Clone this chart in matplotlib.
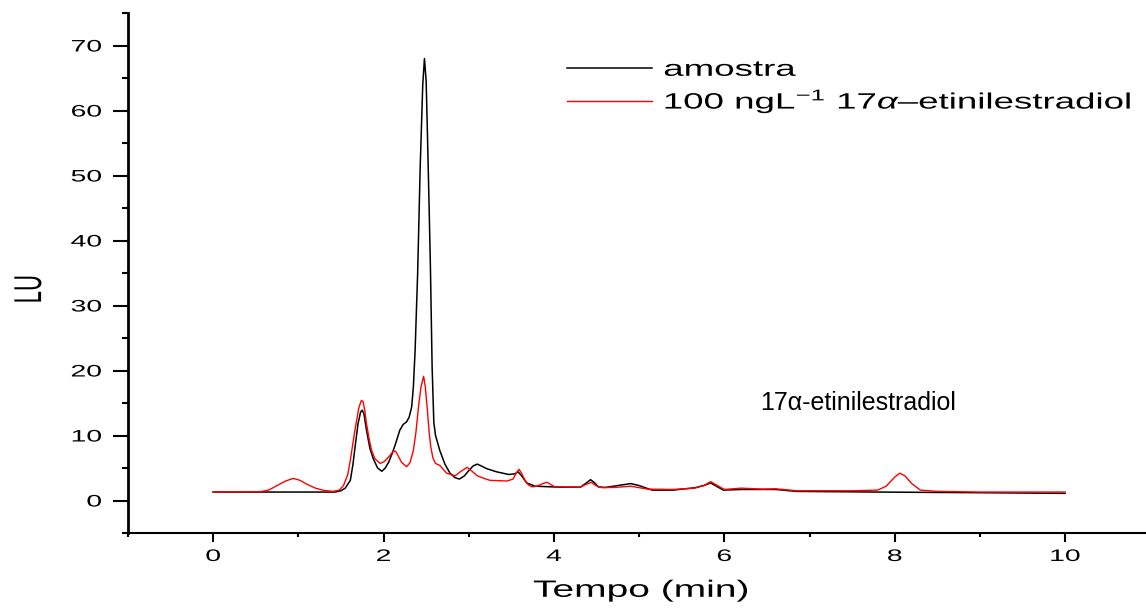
import matplotlib
matplotlib.use("Agg")
import matplotlib.pyplot as plt
from matplotlib.patheffects import AbstractPathEffect
from matplotlib.ticker import MultipleLocator
from matplotlib.transforms import Affine2D

# Chromatogram traces: time (min) vs fluorescence (LU)
amostra_t = [
    0.0, 0.5, 1.0, 1.43, 1.50,
    1.55, 1.61, 1.64, 1.67, 1.70,
    1.73, 1.75, 1.77, 1.80, 1.84,
    1.88, 1.93, 1.98, 2.02, 2.06,
    2.10, 2.14, 2.19, 2.23, 2.27,
    2.30, 2.33, 2.35, 2.37, 2.40,
    2.43, 2.46, 2.48, 2.50, 2.515,
    2.535, 2.55, 2.57, 2.59, 2.61,
    2.66, 2.72, 2.78, 2.84, 2.89,
    2.95, 3.00, 3.05, 3.10, 3.15,
    3.21, 3.33, 3.47, 3.54, 3.58,
    3.62, 3.68, 3.78, 4.07, 4.31,
    4.37, 4.43, 4.48, 4.52, 4.60,
    4.75, 4.90, 5.00, 5.15, 5.40,
    5.65, 5.76, 5.84, 5.92, 5.99,
    6.20, 6.60, 6.85, 7.80, 9.00, 10.0,
]
amostra_lu = [
    1.3, 1.3, 1.3, 1.3, 1.5,
    1.9, 3.1, 5.5, 8.7, 11.8,
    13.6, 13.9, 13.3, 10.8, 8.0,
    6.4, 5.0, 4.5, 5.0, 5.9,
    7.2, 8.7, 10.8, 11.7, 12.1,
    12.8, 14.4, 17.5, 23.0, 34.9,
    51.3, 64.0, 68.0, 64.5, 56.4,
    45.0, 35.9, 20.5, 12.0, 10.0,
    7.7, 5.6, 4.2, 3.5, 3.3,
    3.8, 4.6, 5.3, 5.6, 5.3,
    4.9, 4.4, 4.0, 4.1, 4.4,
    3.8, 2.7, 2.2, 2.05, 2.05,
    2.6, 3.2, 2.7, 2.1, 2.0,
    2.3, 2.6, 2.3, 1.6, 1.6,
    1.95, 2.3, 2.7, 2.1, 1.6,
    1.7, 1.7, 1.4, 1.3, 1.2, 1.1,
]

padrao_t = [
    0.0, 0.55, 0.65, 0.75, 0.85,
    0.94, 1.02, 1.10, 1.20, 1.30,
    1.41, 1.48, 1.53, 1.58, 1.61,
    1.64, 1.67, 1.71, 1.74, 1.76,
    1.78, 1.80, 1.83, 1.86, 1.90,
    1.96, 2.01, 2.06, 2.11, 2.14,
    2.17, 2.21, 2.27, 2.31, 2.35,
    2.38, 2.41, 2.44, 2.47, 2.49,
    2.515, 2.535, 2.555, 2.58, 2.61,
    2.66, 2.70, 2.74, 2.84, 2.91,
    2.98, 3.03, 3.10, 3.18, 3.25,
    3.45, 3.52, 3.56, 3.59, 3.62,
    3.66, 3.70, 3.74, 3.80, 3.87,
    3.92, 3.97, 4.01, 4.31, 4.38,
    4.44, 4.49, 4.55, 4.70, 4.90,
    5.10, 5.40, 5.65, 5.76, 5.84,
    5.92, 6.00, 6.20, 6.45, 6.60,
    6.85, 7.50, 7.80, 7.90, 8.00,
    8.06, 8.12, 8.20, 8.30, 8.50,
    9.00, 10.0,
]
padrao_lu = [
    1.3, 1.35, 1.6, 2.3, 3.0,
    3.4, 3.1, 2.5, 1.9, 1.55,
    1.4, 1.6, 2.3, 4.0, 6.2,
    8.8, 11.3, 14.3, 15.4, 15.2,
    13.8, 11.8, 9.5, 7.7, 6.4,
    5.7, 6.0, 6.7, 7.5, 7.6,
    6.9, 5.9, 5.2, 5.8, 7.7,
    10.5, 14.4, 17.5, 19.1, 17.5,
    13.8, 10.5, 8.2, 6.5, 5.7,
    5.4, 4.8, 4.2, 3.8, 4.5,
    5.1, 4.6, 3.8, 3.4, 3.1,
    3.0, 3.3, 4.3, 4.8, 4.2,
    3.1, 2.4, 2.1, 2.2, 2.6,
    2.8, 2.4, 2.1, 2.05, 2.5,
    2.8, 2.3, 2.0, 2.0, 2.2,
    1.75, 1.7, 1.9, 2.3, 2.9,
    2.3, 1.7, 1.9, 1.75, 1.8,
    1.5, 1.5, 1.6, 2.2, 3.6,
    4.2, 3.8, 2.6, 1.6, 1.4,
    1.3, 1.3,
]

x_ticks = [0, 2, 4, 6, 8, 10]
y_ticks = [0, 10, 20, 30, 40, 50, 60, 70]
series_labels = ["amostra", r"100 ngL$^{-1}$ 17$\alpha$–etinilestradiol"]
peak_label = "17α-etinilestradiol"

# the source graph was widened after export, so its lettering is wide too
STRETCH = 1.65


class HStretch(AbstractPathEffect):
    """Widen glyphs horizontally on screen, keeping the ink pinned at `pivot`."""

    def __init__(self, factor, pivot="center"):
        super().__init__()
        self.factor = factor
        self.pivot = pivot

    def draw_path(self, renderer, gc, tpath, affine, rgbFace=None):
        box = tpath.get_extents(affine)
        x0 = {"left": box.x0, "right": box.x1}.get(self.pivot, (box.x0 + box.x1) / 2)
        widen = Affine2D().translate(-x0, 0).scale(self.factor, 1).translate(x0, 0)
        renderer.draw_path(gc, tpath, affine + widen, rgbFace)


plt.rcParams["font.family"] = ["Liberation Sans", "DejaVu Sans"]
plt.rcParams["mathtext.fontset"] = "custom"
plt.rcParams["mathtext.rm"] = "Liberation Sans"
plt.rcParams["mathtext.it"] = "Liberation Sans:italic"
plt.rcParams["mathtext.bf"] = "Liberation Sans:bold"

fig = plt.figure(figsize=(11.46, 6.10), dpi=100)
ax = fig.add_axes([128 / 1146, 77 / 610, 1018 / 1146, 520 / 610])

ax.plot(amostra_t, amostra_lu, color="black", lw=1.1, label=series_labels[0])
ax.plot(padrao_t, padrao_lu, color="red", lw=1.0, label=series_labels[1])

ax.set_xlim(-1, 10.95)
ax.set_ylim(-5, 75)
ax.set_xticks(x_ticks)
ax.set_yticks(y_ticks)
ax.xaxis.set_minor_locator(MultipleLocator(1))
ax.yaxis.set_minor_locator(MultipleLocator(5))

for side in ("top", "right"):
    ax.spines[side].set_visible(False)
ax.spines["left"].set_linewidth(2.0)
ax.spines["bottom"].set_linewidth(1.5)

ax.tick_params(axis="y", which="major", length=10.5, width=1.5, pad=8.5, labelsize=12)
ax.tick_params(axis="y", which="minor", length=4.3, width=1.5)
ax.tick_params(axis="x", which="major", length=6.5, width=1.5, pad=5, labelsize=12)
ax.tick_params(axis="x", which="minor", length=3, width=1.5)

for lab in ax.get_yticklabels():
    lab.set_path_effects([HStretch(1.7, "right")])
for lab in ax.get_xticklabels():
    lab.set_path_effects([HStretch(1.7, "center")])

ax.set_xlabel("Tempo (min)", fontsize=17, path_effects=[HStretch(STRETCH)])
ax.xaxis.set_label_coords(0.504, -0.09)
ax.set_ylabel("LU", fontsize=16, path_effects=[HStretch(1.75)])
ax.yaxis.set_label_coords(-0.086, 0.469)

leg = ax.legend(loc="upper left", bbox_to_anchor=(0.431, 0.91), frameon=False,
                fontsize=16, handlelength=3.83, handletextpad=0.54,
                labelspacing=0.25, borderpad=0, borderaxespad=0)
for txt in leg.get_texts():
    txt.set_path_effects([HStretch(STRETCH, "left")])

ax.text(6.42, 14.0, peak_label, fontsize=18, ha="left", va="baseline")

fig.savefig("out.png", dpi=100)
